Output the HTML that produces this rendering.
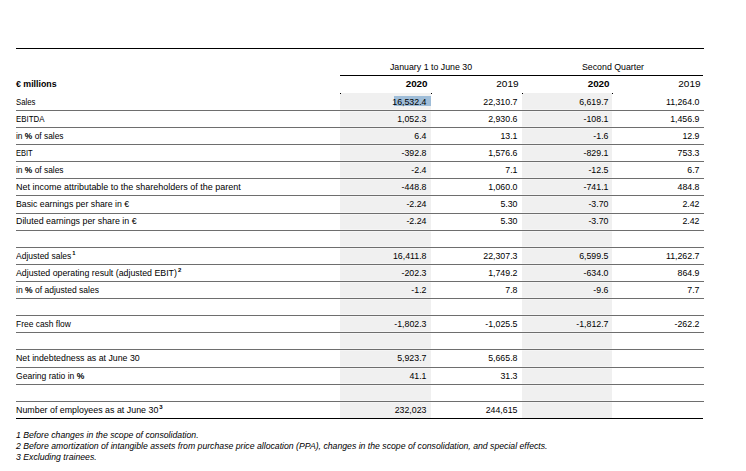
<!DOCTYPE html>
<html><head><meta charset="utf-8"><style>
html,body{margin:0;padding:0;background:#fff;width:746px;height:471px;overflow:hidden;position:relative}
body{font-family:"Liberation Sans",sans-serif;font-size:8.8px;color:#000}
.a{position:absolute;white-space:nowrap}
.t{position:absolute;white-space:nowrap;height:17px;line-height:17px}
.r{text-align:right}
.g{position:absolute;background:#f0f0f0}
.ln{position:absolute;left:16px;width:688px;height:1px;background:#6e6e6e}
.w{position:absolute;height:1px;background:#f5f5f5}
.dot{position:absolute;width:1px;height:1px;background:#000}
b{font-weight:bold}
sup{font-size:6px;vertical-align:0;position:relative;top:-4px;margin-left:1px;font-weight:bold}
i{font-style:italic}
</style></head><body>

<div class="g" style="left:340px;top:93px;width:91px;height:325px"></div>
<div class="g" style="left:522px;top:93px;width:90px;height:325px"></div>
<div class="w" style="left:340px;top:109px;width:91px"></div>
<div class="w" style="left:340px;top:111px;width:91px"></div>
<div class="w" style="left:522px;top:109px;width:90px"></div>
<div class="w" style="left:522px;top:111px;width:90px"></div>
<div class="w" style="left:340px;top:126px;width:91px"></div>
<div class="w" style="left:340px;top:128px;width:91px"></div>
<div class="w" style="left:522px;top:126px;width:90px"></div>
<div class="w" style="left:522px;top:128px;width:90px"></div>
<div class="w" style="left:340px;top:143px;width:91px"></div>
<div class="w" style="left:340px;top:145px;width:91px"></div>
<div class="w" style="left:522px;top:143px;width:90px"></div>
<div class="w" style="left:522px;top:145px;width:90px"></div>
<div class="w" style="left:340px;top:160px;width:91px"></div>
<div class="w" style="left:340px;top:162px;width:91px"></div>
<div class="w" style="left:522px;top:160px;width:90px"></div>
<div class="w" style="left:522px;top:162px;width:90px"></div>
<div class="w" style="left:340px;top:177px;width:91px"></div>
<div class="w" style="left:340px;top:179px;width:91px"></div>
<div class="w" style="left:522px;top:177px;width:90px"></div>
<div class="w" style="left:522px;top:179px;width:90px"></div>
<div class="w" style="left:340px;top:194px;width:91px"></div>
<div class="w" style="left:340px;top:196px;width:91px"></div>
<div class="w" style="left:522px;top:194px;width:90px"></div>
<div class="w" style="left:522px;top:196px;width:90px"></div>
<div class="w" style="left:340px;top:212px;width:91px"></div>
<div class="w" style="left:340px;top:214px;width:91px"></div>
<div class="w" style="left:522px;top:212px;width:90px"></div>
<div class="w" style="left:522px;top:214px;width:90px"></div>
<div class="w" style="left:340px;top:229px;width:91px"></div>
<div class="w" style="left:340px;top:231px;width:91px"></div>
<div class="w" style="left:522px;top:229px;width:90px"></div>
<div class="w" style="left:522px;top:231px;width:90px"></div>
<div class="w" style="left:340px;top:246px;width:91px"></div>
<div class="w" style="left:340px;top:248px;width:91px"></div>
<div class="w" style="left:522px;top:246px;width:90px"></div>
<div class="w" style="left:522px;top:248px;width:90px"></div>
<div class="w" style="left:340px;top:263px;width:91px"></div>
<div class="w" style="left:340px;top:265px;width:91px"></div>
<div class="w" style="left:522px;top:263px;width:90px"></div>
<div class="w" style="left:522px;top:265px;width:90px"></div>
<div class="w" style="left:340px;top:280px;width:91px"></div>
<div class="w" style="left:340px;top:282px;width:91px"></div>
<div class="w" style="left:522px;top:280px;width:90px"></div>
<div class="w" style="left:522px;top:282px;width:90px"></div>
<div class="w" style="left:340px;top:297px;width:91px"></div>
<div class="w" style="left:340px;top:299px;width:91px"></div>
<div class="w" style="left:522px;top:297px;width:90px"></div>
<div class="w" style="left:522px;top:299px;width:90px"></div>
<div class="w" style="left:340px;top:314px;width:91px"></div>
<div class="w" style="left:340px;top:316px;width:91px"></div>
<div class="w" style="left:522px;top:314px;width:90px"></div>
<div class="w" style="left:522px;top:316px;width:90px"></div>
<div class="w" style="left:340px;top:331px;width:91px"></div>
<div class="w" style="left:340px;top:333px;width:91px"></div>
<div class="w" style="left:522px;top:331px;width:90px"></div>
<div class="w" style="left:522px;top:333px;width:90px"></div>
<div class="w" style="left:340px;top:348px;width:91px"></div>
<div class="w" style="left:340px;top:350px;width:91px"></div>
<div class="w" style="left:522px;top:348px;width:90px"></div>
<div class="w" style="left:522px;top:350px;width:90px"></div>
<div class="w" style="left:340px;top:366px;width:91px"></div>
<div class="w" style="left:340px;top:368px;width:91px"></div>
<div class="w" style="left:522px;top:366px;width:90px"></div>
<div class="w" style="left:522px;top:368px;width:90px"></div>
<div class="w" style="left:340px;top:383px;width:91px"></div>
<div class="w" style="left:340px;top:385px;width:91px"></div>
<div class="w" style="left:522px;top:383px;width:90px"></div>
<div class="w" style="left:522px;top:385px;width:90px"></div>
<div class="w" style="left:340px;top:400px;width:91px"></div>
<div class="w" style="left:340px;top:402px;width:91px"></div>
<div class="w" style="left:522px;top:400px;width:90px"></div>
<div class="w" style="left:522px;top:402px;width:90px"></div>
<div class="dot" style="left:340px;top:93px"></div>
<div class="dot" style="left:431px;top:93px"></div>
<div class="dot" style="left:522px;top:93px"></div>
<div class="dot" style="left:612px;top:93px"></div>
<div class="a" style="left:16px;top:48px;width:688px;height:1px;background:#000"></div>
<div class="a" style="left:340px;top:75px;width:363px;height:1px;background:#000"></div>
<div class="ln" style="top:110px"></div>
<div class="ln" style="top:127px"></div>
<div class="ln" style="top:144px"></div>
<div class="ln" style="top:161px"></div>
<div class="ln" style="top:178px"></div>
<div class="ln" style="top:195px"></div>
<div class="ln" style="top:213px"></div>
<div class="ln" style="top:230px"></div>
<div class="ln" style="top:247px"></div>
<div class="ln" style="top:264px"></div>
<div class="ln" style="top:281px"></div>
<div class="ln" style="top:298px"></div>
<div class="ln" style="top:315px"></div>
<div class="ln" style="top:332px"></div>
<div class="ln" style="top:349px"></div>
<div class="ln" style="top:367px"></div>
<div class="ln" style="top:384px"></div>
<div class="ln" style="top:401px"></div>
<div class="a" style="left:16px;top:418px;width:687px;height:1px;background:#000"></div>
<div class="g" style="left:394px;top:96px;width:37px;height:10px;background:#9fbdd8"></div>
<div class="t" style="left:340px;top:59px;width:182px;text-align:center">January 1 to June 30</div>
<div class="t" style="left:522px;top:59px;width:182px;text-align:center">Second Quarter</div>
<div class="t" style="left:16px;top:76px"><b>€ millions</b></div>
<div class="t r" style="left:340px;top:76px;width:87.5px"><b style='display:inline-block;transform:scaleX(1.12);transform-origin:100% 0'>2020</b></div>
<div class="t r" style="left:431px;top:76px;width:87.5px"><span style='display:inline-block;transform:scaleX(1.14);transform-origin:100% 0'>2019</span></div>
<div class="t r" style="left:522px;top:76px;width:87.5px"><b style='display:inline-block;transform:scaleX(1.12);transform-origin:100% 0'>2020</b></div>
<div class="t r" style="left:613px;top:76px;width:87.5px"><span style='display:inline-block;transform:scaleX(1.14);transform-origin:100% 0'>2019</span></div>
<div class="t" style="left:16px;top:94px;transform:scaleX(0.886);transform-origin:0 0">Sales</div>
<div class="t r" style="left:340px;top:94px;width:86.5px">16,532.4</div>
<div class="t r" style="left:431px;top:94px;width:86.5px">22,310.7</div>
<div class="t r" style="left:522px;top:94px;width:86.5px">6,619.7</div>
<div class="t r" style="left:613px;top:94px;width:86.5px">11,264.0</div>
<div class="t" style="left:16px;top:111px;transform:scaleX(0.894);transform-origin:0 0">EBITDA</div>
<div class="t r" style="left:340px;top:111px;width:86.5px">1,052.3</div>
<div class="t r" style="left:431px;top:111px;width:86.5px">2,930.6</div>
<div class="t r" style="left:522px;top:111px;width:86.5px">-108.1</div>
<div class="t r" style="left:613px;top:111px;width:86.5px">1,456.9</div>
<div class="t" style="left:16px;top:128px;transform:scaleX(0.952);transform-origin:0 0">in <b>%</b> of sales</div>
<div class="t r" style="left:340px;top:128px;width:86.5px">6.4</div>
<div class="t r" style="left:431px;top:128px;width:86.5px">13.1</div>
<div class="t r" style="left:522px;top:128px;width:86.5px">-1.6</div>
<div class="t r" style="left:613px;top:128px;width:86.5px">12.9</div>
<div class="t" style="left:16px;top:145px;transform:scaleX(0.855);transform-origin:0 0">EBIT</div>
<div class="t r" style="left:340px;top:145px;width:86.5px">-392.8</div>
<div class="t r" style="left:431px;top:145px;width:86.5px">1,576.6</div>
<div class="t r" style="left:522px;top:145px;width:86.5px">-829.1</div>
<div class="t r" style="left:613px;top:145px;width:86.5px">753.3</div>
<div class="t" style="left:16px;top:162px;transform:scaleX(0.952);transform-origin:0 0">in <b>%</b> of sales</div>
<div class="t r" style="left:340px;top:162px;width:86.5px">-2.4</div>
<div class="t r" style="left:431px;top:162px;width:86.5px">7.1</div>
<div class="t r" style="left:522px;top:162px;width:86.5px">-12.5</div>
<div class="t r" style="left:613px;top:162px;width:86.5px">6.7</div>
<div class="t" style="left:16px;top:179px;transform:scaleX(1.021);transform-origin:0 0">Net income attributable to the shareholders of the parent</div>
<div class="t r" style="left:340px;top:179px;width:86.5px">-448.8</div>
<div class="t r" style="left:431px;top:179px;width:86.5px">1,060.0</div>
<div class="t r" style="left:522px;top:179px;width:86.5px">-741.1</div>
<div class="t r" style="left:613px;top:179px;width:86.5px">484.8</div>
<div class="t" style="left:16px;top:196px;transform:scaleX(0.993);transform-origin:0 0">Basic earnings per share in €</div>
<div class="t r" style="left:340px;top:196px;width:86.5px">-2.24</div>
<div class="t r" style="left:431px;top:196px;width:86.5px">5.30</div>
<div class="t r" style="left:522px;top:196px;width:86.5px">-3.70</div>
<div class="t r" style="left:613px;top:196px;width:86.5px">2.42</div>
<div class="t" style="left:16px;top:213px;transform:scaleX(1.007);transform-origin:0 0">Diluted earnings per share in €</div>
<div class="t r" style="left:340px;top:213px;width:86.5px">-2.24</div>
<div class="t r" style="left:431px;top:213px;width:86.5px">5.30</div>
<div class="t r" style="left:522px;top:213px;width:86.5px">-3.70</div>
<div class="t r" style="left:613px;top:213px;width:86.5px">2.42</div>
<div class="t" style="left:16px;top:248px;transform:scaleX(0.967);transform-origin:0 0">Adjusted sales<sup>1</sup></div>
<div class="t r" style="left:340px;top:248px;width:86.5px">16,411.8</div>
<div class="t r" style="left:431px;top:248px;width:86.5px">22,307.3</div>
<div class="t r" style="left:522px;top:248px;width:86.5px">6,599.5</div>
<div class="t r" style="left:613px;top:248px;width:86.5px">11,262.7</div>
<div class="t" style="left:16px;top:265px;transform:scaleX(1.0);transform-origin:0 0">Adjusted operating result (adjusted EBIT)<sup>2</sup></div>
<div class="t r" style="left:340px;top:265px;width:86.5px">-202.3</div>
<div class="t r" style="left:431px;top:265px;width:86.5px">1,749.2</div>
<div class="t r" style="left:522px;top:265px;width:86.5px">-634.0</div>
<div class="t r" style="left:613px;top:265px;width:86.5px">864.9</div>
<div class="t" style="left:16px;top:282px;transform:scaleX(0.97);transform-origin:0 0">in <b>%</b> of adjusted sales</div>
<div class="t r" style="left:340px;top:282px;width:86.5px">-1.2</div>
<div class="t r" style="left:431px;top:282px;width:86.5px">7.8</div>
<div class="t r" style="left:522px;top:282px;width:86.5px">-9.6</div>
<div class="t r" style="left:613px;top:282px;width:86.5px">7.7</div>
<div class="t" style="left:16px;top:316px;transform:scaleX(0.959);transform-origin:0 0">Free cash flow</div>
<div class="t r" style="left:340px;top:316px;width:86.5px">-1,802.3</div>
<div class="t r" style="left:431px;top:316px;width:86.5px">-1,025.5</div>
<div class="t r" style="left:522px;top:316px;width:86.5px">-1,812.7</div>
<div class="t r" style="left:613px;top:316px;width:86.5px">-262.2</div>
<div class="t" style="left:16px;top:350px;transform:scaleX(1.0);transform-origin:0 0">Net indebtedness as at June 30</div>
<div class="t r" style="left:340px;top:350px;width:86.5px">5,923.7</div>
<div class="t r" style="left:431px;top:350px;width:86.5px">5,665.8</div>
<div class="t" style="left:16px;top:368px;transform:scaleX(0.97);transform-origin:0 0">Gearing ratio in <b>%</b></div>
<div class="t r" style="left:340px;top:368px;width:86.5px">41.1</div>
<div class="t r" style="left:431px;top:368px;width:86.5px">31.3</div>
<div class="t" style="left:16px;top:402px;transform:scaleX(1.007);transform-origin:0 0">Number of employees as at June 30<sup>3</sup></div>
<div class="t r" style="left:340px;top:402px;width:86.5px">232,023</div>
<div class="t r" style="left:431px;top:402px;width:86.5px">244,615</div>
<div class="a" style="left:16px;top:430px;font-size:8.7px;line-height:11px;font-style:italic;-webkit-text-stroke:0">1 Before changes in the scope of consolidation.</div>
<div class="a" style="left:16px;top:441px;font-size:8.7px;line-height:11px;font-style:italic;-webkit-text-stroke:0">2 Before amortization of intangible assets from purchase price allocation (PPA), changes in the scope of consolidation, and special effects.</div>
<div class="a" style="left:16px;top:452px;font-size:8.7px;line-height:11px;font-style:italic;-webkit-text-stroke:0">3 Excluding trainees.</div>
</body></html>
